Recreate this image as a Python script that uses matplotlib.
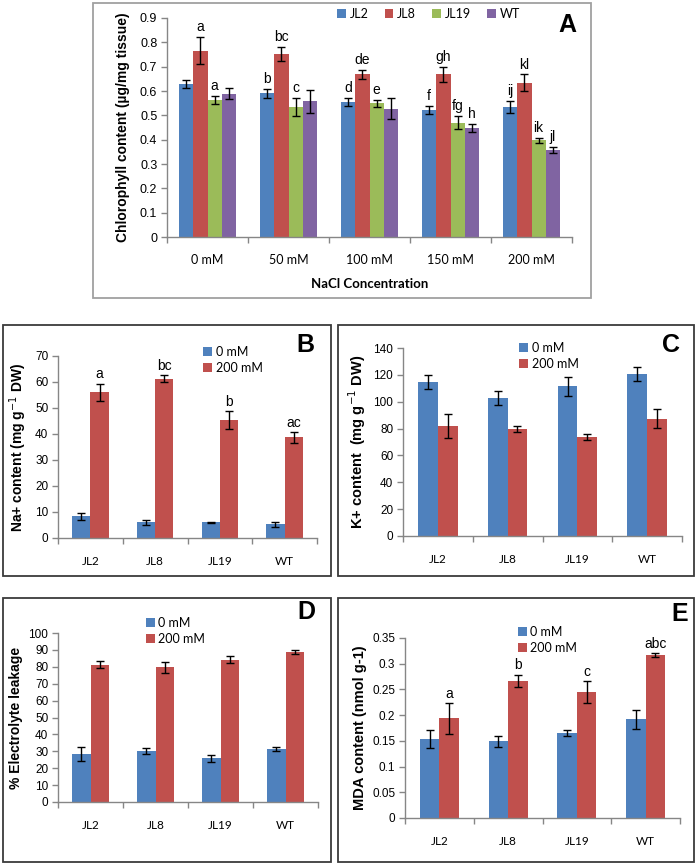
import matplotlib
matplotlib.use("Agg")
import numpy as np
import matplotlib.pyplot as plt
from matplotlib.patches import Rectangle

W, H = 697, 866
BLUE, RED, GREEN, PURPLE = "#4F81BD", "#C0504D", "#9BBB59", "#8064A2"
AXC = "#868686"
ARIAL = "Liberation Sans"
CALIBRI = "Lato"

# ---- panel A: chlorophyll ----
conc = ["0 mM", "50 mM", "100 mM", "150 mM", "200 mM"]
lines = ["JL2", "JL8", "JL19", "WT"]
chl = {
    "JL2": [0.630, 0.590, 0.555, 0.523, 0.533],
    "JL8": [0.766, 0.752, 0.668, 0.668, 0.633],
    "JL19": [0.564, 0.533, 0.549, 0.470, 0.397],
    "WT": [0.589, 0.558, 0.528, 0.449, 0.358],
}
chl_err = {
    "JL2": [0.016, 0.020, 0.016, 0.016, 0.025],
    "JL8": [0.055, 0.030, 0.017, 0.030, 0.035],
    "JL19": [0.016, 0.037, 0.015, 0.027, 0.010],
    "WT": [0.022, 0.048, 0.045, 0.016, 0.012],
}
chl_sig = {
    "JL2": ["", "b", "d", "f", "ij"],
    "JL8": ["a", "bc", "de", "gh", "kl"],
    "JL19": ["a", "c", "e", "fg", "ik"],
    "WT": ["", "", "", "h", "jl"],
}

# ---- panels B-E: 0 mM vs 200 mM ----
geno = ["JL2", "JL8", "JL19", "WT"]
na_0 = [8.3, 6.0, 6.1, 5.3]
na_0_err = [1.5, 1.1, 0.2, 1.0]
na_200 = [56.1, 61.3, 45.3, 38.7]
na_200_err = [3.3, 1.3, 3.4, 2.0]
na_sig = ["a", "bc", "b", "ac"]

k_0 = [114.7, 102.5, 111.4, 120.9]
k_0_err = [5.3, 5.2, 7.0, 5.2]
k_200 = [81.8, 79.6, 73.6, 87.3]
k_200_err = [9.0, 2.2, 2.4, 7.2]

el_0 = [28.5, 30.2, 25.8, 31.3]
el_0_err = [4.0, 2.0, 2.2, 1.0]
el_200 = [81.3, 79.6, 84.2, 88.6]
el_200_err = [2.2, 3.0, 2.2, 1.3]

mda_0 = [0.154, 0.149, 0.165, 0.192]
mda_0_err = [0.017, 0.010, 0.006, 0.018]
mda_200 = [0.194, 0.267, 0.245, 0.317]
mda_200_err = [0.030, 0.012, 0.021, 0.003]
mda_sig = ["a", "b", "c", "abc"]


def rect(x0, y0, x1, y1):
    return [x0 / W, 1 - y1 / H, (x1 - x0) / W, (y1 - y0) / H]


def frame(fig, x0, y0, x1, y1, color):
    fig.add_artist(Rectangle((x0 / W, 1 - y1 / H), (x1 - x0) / W, (y1 - y0) / H,
                             transform=fig.transFigure, fill=False,
                             edgecolor=color, lw=1.3))


def style_axes(ax, n, ymax, step, fmt, ysize=8):
    for s in ("top", "right"):
        ax.spines[s].set_visible(False)
    for s in ("left", "bottom"):
        ax.spines[s].set_color(AXC)
        ax.spines[s].set_linewidth(1.0)
    ax.set_xlim(-0.5, n - 0.5)
    ax.set_ylim(0, ymax)
    yt = np.arange(0, ymax + step / 2, step)
    ax.set_yticks(yt)
    ax.set_yticklabels([fmt(v) for v in yt], fontsize=ysize, family=ARIAL)
    ax.set_xticks(list(np.arange(n)), minor=False)
    ax.set_xticks(list(np.arange(n + 1) - 0.5), minor=True)
    ax.tick_params(axis="x", which="major", length=0, pad=14)
    ax.tick_params(axis="x", which="minor", length=4, color=AXC, width=1)
    ax.tick_params(axis="y", length=4, color=AXC, width=1, pad=3)


def pair_panel(fig, box, axbox, v0, e0, v1, e1, ymax, step, fmt, ylabel,
               letter, letter_xy, leg_xy, sig=None, sig_off=0.0, ylsize=10):
    frame(fig, *box, "#3a3a3a")
    ax = fig.add_axes(rect(*axbox))
    x = np.arange(len(geno))
    w = 0.283
    ax.bar(x - w / 2, v0, w, color=BLUE, label="0 mM", zorder=2)
    ax.bar(x + w / 2, v1, w, color=RED, label="200 mM", zorder=2)
    ax.errorbar(x - w / 2, v0, yerr=e0, fmt="none", ecolor="black",
                elinewidth=1, capsize=3, capthick=1, zorder=3)
    ax.errorbar(x + w / 2, v1, yerr=e1, fmt="none", ecolor="black",
                elinewidth=1, capsize=3, capthick=1, zorder=3)
    if sig:
        for xi, v, e, s in zip(x + w / 2, v1, e1, sig):
            ax.text(xi, v + e + sig_off, s, ha="center", va="bottom",
                    fontsize=10, family=ARIAL)
    style_axes(ax, len(geno), ymax, step, fmt, ysize=8.5)
    ax.set_xticklabels(geno, fontsize=8.5, family=CALIBRI)
    ax.tick_params(axis="x", which="major", pad=13)
    ax.set_ylabel(ylabel, fontsize=ylsize, fontweight="bold", family=ARIAL, labelpad=4)
    ax.legend(loc="upper left", bbox_to_anchor=(leg_xy[0] / W, 1 - leg_xy[1] / H),
              bbox_transform=fig.transFigure, frameon=False,
              prop={"family": CALIBRI, "size": 9}, handlelength=0.7,
              handleheight=0.7, handletextpad=0.3, labelspacing=0.3,
              borderpad=0, borderaxespad=0)
    fig.text(letter_xy[0] / W, 1 - letter_xy[1] / H, letter, fontsize=18,
             fontweight="bold", family=ARIAL, ha="center", va="center")
    return ax


def main():
    fig = plt.figure(figsize=(W / 100, H / 100), dpi=100)

    # ---------- panel A ----------
    frame(fig, 93, 3, 591, 298, "#a0a0a0")
    ax = fig.add_axes(rect(167, 18, 572, 237))
    x = np.arange(len(conc))
    w = 0.177
    cols = [BLUE, RED, GREEN, PURPLE]
    for i, (g, c) in enumerate(zip(lines, cols)):
        xi = x + (i - 1.5) * w
        ax.bar(xi, chl[g], w, color=c, label=g, zorder=2)
        ax.errorbar(xi, chl[g], yerr=chl_err[g], fmt="none", ecolor="black",
                    elinewidth=1, capsize=3, capthick=1, zorder=3)
        for xx, v, e, s in zip(xi, chl[g], chl_err[g], chl_sig[g]):
            if s:
                ax.text(xx, v + e + 0.012, s, ha="center", va="bottom",
                        fontsize=10, family=ARIAL)
    style_axes(ax, len(conc), 0.9, 0.1,
               lambda v: "0" if v == 0 else f"{v:.1f}", ysize=9)
    ax.set_xticklabels(conc, fontsize=9, family=CALIBRI)
    ax.tick_params(axis="x", which="major", pad=12)
    ax.set_xlabel("NaCl Concentration", fontsize=9.5, fontweight="bold",
                  family=CALIBRI, labelpad=9)
    ax.set_ylabel("Chlorophyll content (µg/mg tissue)", fontsize=10,
                  fontweight="bold", family=ARIAL, labelpad=7)
    ax.legend(loc="upper left", bbox_to_anchor=(337 / W, 1 - 8 / H),
              bbox_transform=fig.transFigure, frameon=False, ncol=4,
              prop={"family": CALIBRI, "size": 9}, handlelength=0.7,
              handleheight=0.7, handletextpad=0.3, columnspacing=1.3,
              borderpad=0, borderaxespad=0)
    fig.text(567 / W, 1 - 25 / H, "A", fontsize=18, fontweight="bold",
             family=ARIAL, ha="center", va="center")

    # ---------- panels B-E ----------
    pair_panel(fig, (3, 325, 331, 576), (58, 356, 317, 538),
               na_0, na_0_err, na_200, na_200_err, 70, 10,
               lambda v: f"{v:.0f}", "Na+ content (mg g$^{-1}$ DW)",
               "B", (305, 345), (203, 346), sig=na_sig, sig_off=1.0)
    pair_panel(fig, (338, 325, 694, 576), (403, 348, 682, 536),
               k_0, k_0_err, k_200, k_200_err, 140, 20,
               lambda v: f"{v:.0f}", "K+ content  (mg g$^{-1}$ DW)",
               "C", (671, 345), (519, 342), ylsize=10.5)
    pair_panel(fig, (3, 598, 331, 862), (58, 633, 318, 802),
               el_0, el_0_err, el_200, el_200_err, 100, 10,
               lambda v: f"{v:.0f}", "% Electrolyte leakage",
               "D", (306, 612), (146, 617))
    pair_panel(fig, (338, 598, 694, 862), (405, 638, 680, 818),
               mda_0, mda_0_err, mda_200, mda_200_err, 0.35, 0.05,
               lambda v: "0" if v == 0 else f"{v:g}", "MDA content (nmol g-1)",
               "E", (680, 614), (518, 626), sig=mda_sig, sig_off=0.004,
               ylsize=10.5)

    fig.savefig("out.png", dpi=100)
    plt.close(fig)


if __name__ == "__main__":
    main()
